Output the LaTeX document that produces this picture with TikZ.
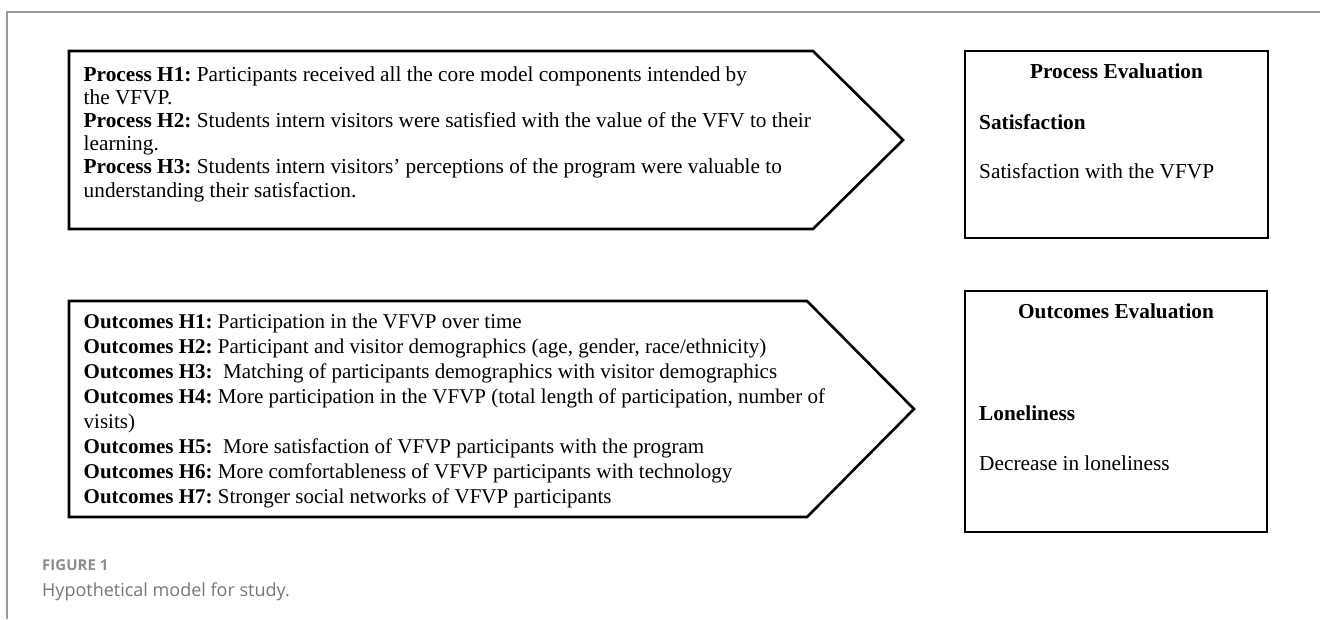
\documentclass[tikz,border=0pt]{standalone}
\usepackage{fontspec}
\setmainfont{Liberation Serif}
\newfontfamily\capfont{Open Sans}
\frenchspacing
\definecolor{framegray}{HTML}{9A9A9A}
\definecolor{capgray}{HTML}{777777}
\definecolor{figgray}{HTML}{8C8C8C}
\tikzset{
  shapeline/.style={draw=black, line width=2.6pt, line join=miter},
  frameline/.style={draw=framegray, line width=1.2pt},
  txt/.style={anchor=base west, inner sep=0pt, font=\fontsize{21.3}{25}\selectfont},
  otxt/.style={anchor=base west, inner sep=0pt, font=\fontsize{21}{25}\selectfont},
  ttl/.style={anchor=base, inner sep=0pt, font=\fontsize{21.3}{25}\selectfont\bfseries},
  figlabel/.style={anchor=base west, inner sep=0pt, text=figgray, font=\capfont\bfseries\fontsize{15}{18}\selectfont},
  figcap/.style={anchor=base west, inner sep=0pt, text=capgray, font=\capfont\fontsize{18}{22}\selectfont},
}
\begin{document}
\begin{tikzpicture}[x=1pt,y=-1pt]
\useasboundingbox (0,0) rectangle (1320,619);
% page frame
\draw[frameline] (7,619) -- (7,12) -- (1320,12);
% process pentagon and box
\draw[shapeline] (69,51) -- (813,51) -- (903,140) -- (813,229) -- (69,229) -- cycle;
\draw[shapeline] (965,51) rectangle (1268,238);
% outcomes pentagon and box
\draw[shapeline] (69,301) -- (807,301) -- (914,409) -- (807,517) -- (69,517) -- cycle;
\draw[shapeline] (965,291) rectangle (1267,532);
% process text
\node[txt] (p1) at (83.5,81) {\textbf{Process H1:} Participants received all the core model components intended by};
\node[txt] (p1b) at (83.5,104.2) {the VFVP.};
\node[txt] (p2) at (83.5,127.4) {\textbf{Process H2:} Students intern visitors were satisfied with the value of the VFV to their};
\node[txt] (p2b) at (83.5,150.6) {learning.};
\node[txt] (p3) at (83.5,173.8) {\textbf{Process H3:} Students intern visitors’ perceptions of the program were valuable to};
\node[txt] (p3b) at (83.5,197) {understanding their satisfaction.};
% outcomes text
\node[otxt] (o1) at (83.5,328) {\textbf{Outcomes H1:} Participation in the VFVP over time};
\node[otxt] (o2) at (83.5,353) {\textbf{Outcomes H2:} Participant and visitor demographics (age, gender, race/ethnicity)};
\node[otxt] (o3) at (83.5,378) {\textbf{Outcomes H3:}\ \ Matching of participants demographics with visitor demographics};
\node[otxt] (o4) at (83.5,403) {\textbf{Outcomes H4:} More participation in the VFVP (total length of participation, number of};
\node[otxt] (o4b) at (83.5,428) {visits)};
\node[otxt] (o5) at (83.5,453) {\textbf{Outcomes H5:}\ \ More satisfaction of VFVP participants with the program};
\node[otxt] (o6) at (83.5,478) {\textbf{Outcomes H6:} More comfortableness of VFVP participants with technology};
\node[otxt] (o7) at (83.5,503) {\textbf{Outcomes H7:} Stronger social networks of VFVP participants};
% evaluation boxes text
\node[ttl] (pe) at (1116.5,78) {Process Evaluation};
\node[txt] (sat) at (979,129) {\textbf{Satisfaction}};
\node[txt] (satv) at (979,178) {Satisfaction with the VFVP};
\node[ttl] (oe) at (1116,318) {Outcomes Evaluation};
\node[txt] (lon) at (979,420) {\textbf{Loneliness}};
\node[txt] (lonv) at (979,470) {Decrease in loneliness};
% caption
\node[figlabel] (fig) at (42,570) {FIGURE 1};
\node[figcap] (cap) at (42,596) {Hypothetical model for study.};
\end{tikzpicture}
\end{document}
